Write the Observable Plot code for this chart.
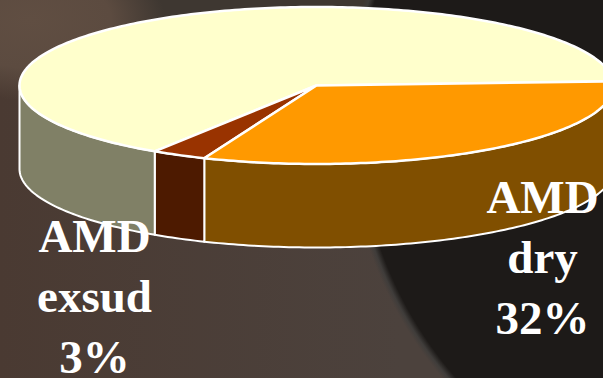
<!DOCTYPE html>
<html>
<head>
<meta charset="utf-8">
<script src="https://cdn.jsdelivr.net/npm/d3@7"></script>
<script src="https://cdn.jsdelivr.net/npm/@observablehq/plot@0.6"></script>
<style>
  html, body { margin: 0; padding: 0; width: 603px; height: 378px; overflow: hidden; }
  body {
    background:
      radial-gradient(circle 407px at 756px 116px, #1d1a18 0 398px, rgba(62,60,58,0.9) 404px, rgba(74,66,60,0) 409px),
      radial-gradient(ellipse 135px 80px at 30px 20px, #604e42 0, #5c4b40 60%, rgba(92,75,64,0) 100%),
      linear-gradient(180deg, #3e3731 0, #3e3731 25px, rgba(62,55,49,0) 80px),
      linear-gradient(90deg, #4a3a32 0, #4c423d 400px);
  }
  svg { display: block; overflow: hidden; }
</style>
</head>
<body>
<script>
// Slices of the disc, clockwise from the right-hand edge
const categories = ["AMD dry", "AMD exsud", "Other"];
const shares = [32, 3, 65];
const topColors = ["#ff9900", "#993300", "#ffffcc"];
const wallColors = ["#804f00", "#4d1a00", "#808066"];

// Labelled slices, one line of text per row
const labelLines = ["AMD\ndry\n32%", "AMD\nexsud\n3%"];

// Shape of the tilted disc, in plot units
const disc = {cx: 316, cy: 85, rx: 297, ry: 78.5, depth: 83.5, start: -3};

const rad = (deg) => (deg * Math.PI) / 180;
const rim = (deg, drop = 0) => ({
  x: disc.cx + disc.rx * Math.cos(rad(deg)),
  y: disc.cy + disc.ry * Math.sin(rad(deg)) + drop
});
const arc = (from, to, drop = 0) => {
  const steps = Math.max(2, Math.ceil(Math.abs(to - from)));
  return d3.range(steps + 1).map((i) => rim(from + ((to - from) * i) / steps, drop));
};

// Cumulative angular extents of the slices
let running = disc.start;
const slices = categories.map((name, i) => {
  const from = running;
  running += (shares[i] / d3.sum(shares)) * 360;
  return {name, from, to: running, top: topColors[i], wall: wallColors[i]};
});

// Only the front half of the rim shows a wall
const wallPath = (s) => {
  const a = Math.max(s.from, 0);
  const b = Math.min(s.to, 180);
  if (b <= a) return null;
  const upper = arc(a, b);
  const lower = arc(b, a, disc.depth);
  return [...upper, ...lower, upper[0]];
};
const topPath = (s) => {
  const centre = {x: disc.cx, y: disc.cy};
  return [centre, ...arc(s.from, s.to), centre];
};

const outline = (points, fill, strokeWidth) =>
  Plot.line(points, {x: "x", y: "y", fill, stroke: "#fff", strokeWidth, strokeLinejoin: "round", curve: "linear"});

const labelStyle = {
  text: (d) => d,
  fill: "#fff",
  fontFamily: "Liberation Serif",
  fontWeight: "bold",
  fontSize: 47,
  lineHeight: 1.28,
  textAnchor: "middle",
  lineAnchor: "bottom"
};

const chart = Plot.plot({
  width: 603,
  height: 378,
  margin: 0,
  style: {background: "transparent"},
  x: {domain: [0, 603], range: [0, 603], axis: null},
  y: {domain: [0, 378], range: [0, 378], axis: null},
  marks: [
    ...slices.filter(wallPath).map((s) => outline(wallPath(s), s.wall, 2)),
    ...[slices[2], slices[1], slices[0]].map((s) => outline(topPath(s), s.top, 2.5)),
    Plot.text([labelLines[0]], {...labelStyle, x: () => 542, y: () => 333}),
    Plot.text([labelLines[1]], {...labelStyle, x: () => 94, y: () => 372})
  ]
});
document.body.appendChild(chart);
</script>
</body>
</html>
